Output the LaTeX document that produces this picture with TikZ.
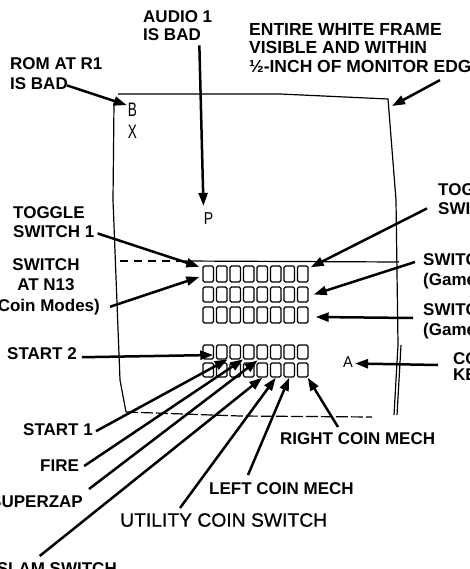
\documentclass[tikz,border=0pt]{standalone}
\usepackage{fontspec}
\setmainfont{Liberation Sans}
\newfontfamily\semibold[FakeBold=0.6]{Liberation Sans}
\usetikzlibrary{arrows.meta}

\begin{document}
\begin{tikzpicture}[x=1pt,y=-1pt,
    lbl/.style={font=\fontsize{17}{19}\selectfont\bfseries, align=left, inner sep=0pt, anchor=north west},
    glyph/.style={font=\fontsize{19.5}{19.5}\selectfont, inner sep=0pt},
    swbox/.style={draw, line width=1.4pt, rounded corners=1.5pt, minimum width=10.5pt, inner sep=0pt},
    arr/.style={line width=2.5pt, -{Triangle[length=13pt,width=9pt]}},
    frameline/.style={line width=1.2pt}]
    \useasboundingbox (0,0) rectangle (469,569);
    \clip (0,0) rectangle (469,569);

    % The white frame on the monitor
    \draw[frameline] (118,94) -- (280,94) -- (388,99) -- (396,200) -- (398,345) -- (394,415);
    \draw[frameline] (401,345) -- (397,415);
    \draw[frameline] (114,103) -- (113,200) -- (120,380) -- (126,412);
    \draw[frameline, dash pattern=on 12pt off 3pt] (126,412) -- (240,416) -- (372,417);
    \draw[frameline, dash pattern=on 8pt off 6pt] (120,261) -- (182,261);
    \draw[frameline] (182,261) -- (399,262);
    \coordinate (edge) at (392,106);

    % Switch indicators
    \foreach \r/\y/\h in {1/274/16,2/294.5/15,3/315/16,4/352/14,5/370/14}
        \foreach \c in {1,...,8}
            \node[swbox, minimum height=\h] (r\r-\c) at ({208.25+(\c-1)*13.5},\y) {};

    % Letters shown on the screen
    \node[glyph] (B) at (132.5,110) {\scalebox{0.7}[1]{B}};
    \node[glyph] (X) at (132.5,132) {\scalebox{0.7}[1]{X}};
    \node[glyph] (P) at (208.5,219) {\scalebox{0.72}[0.88]{P}};
    \node[glyph] (A) at (348,362.5) {\scalebox{0.75}[0.8]{A}};

    % Labels
    \node[lbl] (audio) at (143,10) {AUDIO 1\\[-1pt]IS BAD};
    \node[lbl] (rom) at (10,57) {ROM AT R1\\[1pt]IS BAD};
    \node[lbl, font=\fontsize{17.5}{18.5}\selectfont\bfseries] (framelbl) at (249,23) {ENTIRE WHITE FRAME\\VISIBLE AND WITHIN\\½-INCH OF MONITOR EDGE};
    \node[lbl] (toggle1) at (13,206) {TOGGLE\\SWITCH 1};
    \node[lbl, align=center, anchor=north] (n13) at (46,258) {SWITCH\\[1.5pt]AT N13\\[1.5pt](Coin Modes)};
    \node[lbl] (start2) at (7,347) {START 2};
    \node[lbl] (start1) at (23,423) {START 1};
    \node[lbl] (fire) at (40,460) {FIRE};
    \node[lbl, anchor=north east] (superzap) at (83,495) {SUPERZAP};
    \node[lbl, anchor=north east] (slam) at (117,562) {SLAM SWITCH};
    \node[lbl, font=\fontsize{19.3}{21}\semibold] (utility) at (120,513) {UTILITY COIN SWITCH};
    \node[lbl] (leftcoin) at (209,482) {LEFT COIN MECH};
    \node[lbl] (rightcoin) at (280,432) {RIGHT COIN MECH};
    \node[lbl] (toggle2) at (438,183) {TOGGLE\\SWITCH 2};
    \node[lbl] (games1) at (423,253) {SWITCH\\[1pt](Game Options)};
    \node[lbl] (games2) at (423,303) {SWITCH\\[1pt](Game Options)};
    \node[lbl] (coinkey) at (453,352) {COIN\\[-3pt]KEY};

    % Arrows to the screen
    \draw[arr] ([xshift=57pt,yshift=4pt]rom.south west) -- ([xshift=-1pt,yshift=-2pt]B.north west);
    \draw[arr, shorten >=7pt] ([xshift=-13pt,yshift=-5pt]audio.south east) -- (P.north west);
    \draw[arr] ([xshift=191pt,yshift=-7.5pt]framelbl.south west) -- (edge);
    \draw[arr] ([xshift=3pt,yshift=4pt]toggle1.south east) -- ([xshift=-3pt,yshift=-1.5pt]r1-1.north west);
    \draw[arr] ([xshift=10pt,yshift=8pt]n13.south east) -- ([xshift=-3pt,yshift=-3pt]r1-1.west);
    \draw[arr] ([xshift=5pt,yshift=-4pt]start2.east) -- ([xshift=5pt,yshift=-3pt]r4-1.center);
    \draw[arr] ([xshift=3pt,yshift=-2pt]start1.east) -- ([yshift=3pt]r5-2.north east);
    \draw[arr] ([xshift=5pt]fire.east) -- ([xshift=2pt,yshift=3pt]r5-3.north east);
    \draw[arr] ([xshift=6pt,yshift=6pt]superzap.north east) -- ([xshift=3pt,yshift=2pt]r5-4.north east);
    \draw[arr] ([xshift=43pt,yshift=6pt]slam.north west) -- (r5-5.south);
    \draw[arr] ([xshift=60pt,yshift=5pt]utility.north west) -- (r5-6.south);
    \draw[arr] ([xshift=39pt,yshift=7pt]leftcoin.north west) -- (r5-7.south);
    \draw[arr] ([xshift=58pt,yshift=5pt]rightcoin.north west) -- ([xshift=-1pt]r5-8.south east);
    \draw[arr] ([xshift=-11pt,yshift=6pt]toggle2.south west) -- ([xshift=2pt,yshift=-2pt]r1-8.north east);
    \draw[arr] ([xshift=-8pt,yshift=-9pt]games1.north west) -- ([xshift=5pt]r2-8.east);
    \draw[arr] ([xshift=-10pt,yshift=-15pt]games2.north west) -- ([xshift=7pt,yshift=-2pt]r3-8.east);
    \draw[arr] ([xshift=-15pt,yshift=-13pt]coinkey.north west) -- ([xshift=2pt,yshift=-1pt]A.east);
\end{tikzpicture}
\end{document}
